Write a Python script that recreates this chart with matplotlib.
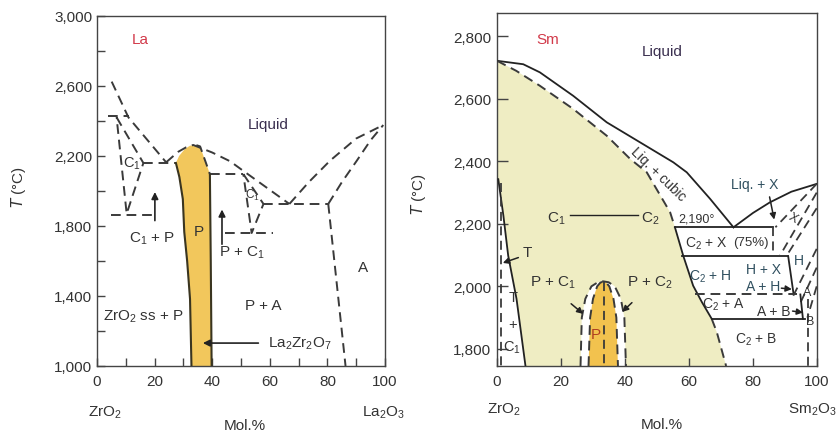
import numpy as np
import matplotlib
matplotlib.use('Agg')
import matplotlib.pyplot as plt

plt.rcParams['font.family'] = ['Liberation Sans', 'DejaVu Sans']
plt.rcParams['mathtext.default'] = 'regular'

DASH = (0, (5, 3))
LC = '#3a3a3a'
TXT = '#333333'
TEAL = '#2f4f5f'

# ---------------- La2O3 - ZrO2 ----------------
la_liq_left_x = [5.1, 10.9, 24.0]
la_liq_left_t = [2625, 2421, 2164]
la_liq_mid_x = [24.0, 28.2, 31.0, 33.4, 40.0, 46.2, 50.8, 58.0, 66.8]
la_liq_mid_t = [2164, 2224, 2250, 2263, 2220, 2170, 2115, 2030, 1926]
la_liq_right_x = [66.8, 73.5, 80.9, 90.0, 99.4]
la_liq_right_t = [1926, 2050, 2173, 2300, 2377]
la_inner_right_x = [80.3, 85.0, 90.2, 95.0, 99.4]
la_inner_right_t = [1926, 2050, 2173, 2290, 2377]
la_tri1_x = [6.8, 16.1, 10.3, 6.8]
la_tri1_t = [2421, 2160, 1870, 2421]
la_tri2_x = [50.8, 57.8, 53.7, 50.8]
la_tri2_t = [2097, 1926, 1760, 2097]
la_p_left_x = [27.4, 28.6, 29.8, 30.3, 31.3, 32.3, 32.8]
la_p_left_t = [2160, 2080, 1954, 1766, 1600, 1383, 1000]
la_p_top_x = [27.4, 28.5, 30.5, 32.3, 34.5, 35.8, 39.2]
la_p_top_t = [2160, 2200, 2240, 2259, 2262, 2255, 2097]
la_p_right_x = [39.2, 39.5, 39.8]
la_p_right_t = [2097, 1600, 1000]
# horizontal lines: (x0, x1, T)
la_hlines = [(3.9, 11.2, 2427), (16.1, 27.4, 2160), (4.7, 19.0, 1865),
             (39.3, 50.8, 2097), (57.8, 80.3, 1926), (44.4, 61.2, 1760)]
la_vline_x = [80.3, 86.3]
la_vline_t = [1926, 1000]

# ---------------- Sm2O3 - ZrO2 ----------------
sm_liq_c_x = [0, 8.2, 13.4, 23.8, 34.3, 44.7, 55.1, 59.3, 66.6, 73.9]
sm_liq_c_t = [2722, 2711, 2685, 2610, 2525, 2461, 2397, 2365, 2280, 2189]
sm_liq_x_x = [73.9, 80.0, 85.3, 92.0, 99.9]
sm_liq_x_t = [2189, 2235, 2269, 2303, 2328]
sm_sol_x = [0, 6.0, 13.4, 23.8, 34.3, 41.6, 46.8, 54.1, 55.6]
sm_sol_t = [2722, 2690, 2642, 2568, 2482, 2408, 2365, 2237, 2189]
sm_c2_x = [55.6, 58.2, 61.3, 64.0, 67.1]
sm_c2_t = [2189, 2098, 2002, 1950, 1896]
sm_c2_low_x = [67.1, 68.7, 71.6]
sm_c2_low_t = [1896, 1853, 1745]
sm_tline_x = [0.4, 2.0, 3.5, 6.1, 8.9]
sm_tline_t = [2343, 2226, 2098, 1960, 1745]
sm_p_out_x = [26.1, 26.5, 27.6, 29.5, 31.5, 33.2, 34.9, 36.8, 38.7, 39.8, 40.3]
sm_p_out_t = [1745, 1900, 1960, 2000, 2013, 2016, 2013, 2000, 1960, 1900, 1745]
sm_p_in_x = [28.6, 29.1, 30.0, 31.3, 32.3, 33.2, 34.1, 35.1, 36.4, 37.3, 37.8]
sm_p_in_t = [1745, 1900, 1960, 2000, 2012, 2015, 2012, 2000, 1960, 1900, 1745]
# solid horizontals (x0, x1, T)
sm_solid_h = [(55.6, 86.4, 2189), (57.7, 91.0, 2096), (67.1, 96.2, 1896)]
sm_dash_h = [(61.9, 93.7, 1974)]
# dashed segments on the Sm2O3 rich side
sm_dash_segs = [((99.9, 87.0), (2328, 2189)), ((99.9, 88.4), (2300, 2098)),
                ((99.9, 90.5), (2250, 2098)), ((99.9, 92.6), (2120, 1970)),
                ((99.9, 94.5), (2060, 1940)), ((99.9, 97.0), (2000, 1900)),
                ((97.3, 97.3), (1960, 1745)), ((86.4, 86.4), (2189, 2096)),
                ((1.2, 1.2), (2330, 1745)), ((33.3, 33.3), (2015, 1745))]
sm_solid_segs = [((91.0, 92.6), (2096, 1981)), ((94.8, 95.6), (1974, 1896))]

fig = plt.figure(figsize=(8.4, 4.35), dpi=100)
ax1 = fig.add_axes([97/840, 68/435, 288/840, 350/435])
ax2 = fig.add_axes([497/840, 68/435, 320/840, 353/435])

for ax in (ax1, ax2):
    for s in ax.spines.values():
        s.set_color('#444444')
        s.set_linewidth(1.0)
    ax.tick_params(direction='in', length=6, width=1, colors='#444444',
                   labelcolor=TXT, labelsize=11)
    ax.set_xlim(0, 100)
    ax.set_xticks(np.arange(0, 101, 20))

# ---- left panel
ax = ax1
ax.set_ylim(1000, 3000)
ax.set_yticks(np.arange(1000, 3001, 400))
ax.set_yticklabels(['1,000', '1,400', '1,800', '2,200', '2,600', '3,000'])
ax.set_yticks(np.arange(1200, 3000, 400), minor=True)
ax.set_xticks(np.arange(10, 100, 20), minor=True)
ax.tick_params(which='minor', direction='in', length=6, width=1, colors='#444444')
ax.tick_params(axis='x', pad=6)

poly_x = la_p_left_x[::-1] + la_p_top_x[1:] + la_p_right_x[1:]
poly_t = la_p_left_t[::-1] + la_p_top_t[1:] + la_p_right_t[1:]
ax.fill(poly_x, poly_t, color='#f2c75c', lw=0, zorder=1)
ax.plot(la_p_left_x, la_p_left_t, color='#3a3520', lw=1.5, zorder=3)
ax.plot(la_p_right_x, la_p_right_t, color='#3a3520', lw=1.5, zorder=3)
ax.plot(la_p_top_x[4:], la_p_top_t[4:], color=LC, lw=1.4, ls=DASH, zorder=3)

for xs, ts in [(la_liq_left_x, la_liq_left_t), (la_liq_mid_x, la_liq_mid_t),
               (la_liq_right_x, la_liq_right_t), (la_inner_right_x, la_inner_right_t),
               (la_tri1_x, la_tri1_t), (la_tri2_x, la_tri2_t), (la_vline_x, la_vline_t)]:
    ax.plot(xs, ts, color=LC, lw=1.4, ls=DASH, zorder=2)
for x0, x1, t in la_hlines:
    ax.plot([x0, x1], [t, t], color=LC, lw=1.4, ls=DASH, zorder=2)

arr = dict(arrowstyle='-|>', color='#222222', lw=1.2, mutation_scale=10)
ax.annotate('', xy=(20.1, 2010), xytext=(20.1, 1815), arrowprops=arr)
ax.annotate('', xy=(43.4, 1910), xytext=(43.4, 1680), arrowprops=arr)
ax.annotate('', xy=(35.8, 1131), xytext=(57.0, 1131), arrowprops=arr)

ax.text(15, 2870, 'La', color='#d23a4a', fontsize=11, ha='center', va='center')
ax.text(59.5, 2383, 'Liquid', color='#3a2f4f', fontsize=11, ha='center', va='center')
ax.text(12.2, 2160, 'C$_1$', color=TXT, fontsize=10.5, ha='center', va='center')
ax.text(19, 1735, 'C$_1$ + P', color=TXT, fontsize=11, ha='center', va='center')
ax.text(35.2, 1773, 'P', color=TXT, fontsize=11, ha='center', va='center')
ax.text(50.5, 1650, 'P + C$_1$', color=TXT, fontsize=11, ha='center', va='center')
ax.text(53.9, 1980, 'C$_1$', color=TXT, fontsize=8.5, ha='center', va='center')
ax.text(92.5, 1564, 'A', color=TXT, fontsize=11, ha='center', va='center')
ax.text(57.8, 1349, 'P + A', color=TXT, fontsize=11, ha='center', va='center')
ax.text(16.1, 1287, 'ZrO$_2$ ss + P', color=TXT, fontsize=11, ha='center', va='center')
ax.text(70.5, 1131, 'La$_2$Zr$_2$O$_7$', color=TXT, fontsize=11, ha='center', va='center')

ax.set_ylabel('$\\mathit{T}$ (°C)', fontsize=11, color=TXT)
ax.yaxis.set_label_coords(-0.24, 0.514)
ax.text(0.028, -0.13, 'ZrO$_2$', transform=ax.transAxes, ha='center', va='center',
        fontsize=11, color=TXT)
ax.text(0.514, -0.168, 'Mol.%', transform=ax.transAxes, ha='center', va='center',
        fontsize=11, color=TXT)
ax.text(0.993, -0.13, 'La$_2$O$_3$', transform=ax.transAxes, ha='center', va='center',
        fontsize=11, color=TXT)

# ---- right panel
ax = ax2
ax.set_ylim(1745, 2875)
ax.set_yticks(np.arange(1800, 2801, 200))
ax.set_yticklabels(['1,800', '2,000', '2,200', '2,400', '2,600', '2,800'])
ax.tick_params(axis='y', length=8, pad=4)
ax.tick_params(axis='x', pad=6)

yel_x = sm_sol_x + sm_c2_x[1:] + sm_c2_low_x[1:] + sm_tline_x[::-1] + [0]
yel_t = sm_sol_t + sm_c2_t[1:] + sm_c2_low_t[1:] + sm_tline_t[::-1] + [2350]
ax.fill(yel_x, yel_t, color='#efedc3', lw=0, zorder=1)
ax.fill(sm_p_out_x, sm_p_out_t, color='white', lw=0, zorder=1.2)
ax.fill(sm_p_in_x, sm_p_in_t, color='#f2c24e', lw=0, zorder=1.4)
ax.plot(sm_p_out_x, sm_p_out_t, color=LC, lw=1.4, ls=DASH, zorder=2)
ax.plot(sm_p_in_x, sm_p_in_t, color=LC, lw=1.4, ls=DASH, zorder=2)

ax.plot(sm_liq_c_x, sm_liq_c_t, color='#222222', lw=1.3, zorder=3)
ax.plot(sm_liq_x_x, sm_liq_x_t, color='#222222', lw=1.3, zorder=3)
ax.plot(sm_sol_x, sm_sol_t, color=LC, lw=1.4, ls=DASH, zorder=3)
ax.plot(sm_c2_x, sm_c2_t, color='#222222', lw=1.3, zorder=3)
ax.plot(sm_c2_low_x, sm_c2_low_t, color=LC, lw=1.4, ls=DASH, zorder=3)
ax.plot(sm_tline_x, sm_tline_t, color='#222222', lw=1.3, zorder=3)
for x0, x1, t in sm_solid_h:
    ax.plot([x0, x1], [t, t], color='#222222', lw=1.3, zorder=3)
for x0, x1, t in sm_dash_h:
    ax.plot([x0, x1], [t, t], color=LC, lw=1.4, ls=DASH, zorder=3)
for xs, ts in sm_dash_segs:
    ax.plot(xs, ts, color=LC, lw=1.3, ls=DASH, zorder=3)
for xs, ts in sm_solid_segs:
    ax.plot(xs, ts, color='#222222', lw=1.3, zorder=3)
ax.plot([22.8, 44.2], [2228, 2228], color='#222222', lw=1.0, zorder=3)

arr2 = dict(arrowstyle='-|>', color='#222222', lw=1.1, mutation_scale=9)
ax.annotate('', xy=(1.0, 2072), xytext=(7.5, 2095), arrowprops=arr2)
ax.annotate('', xy=(27.6, 1906), xytext=(22.5, 1950), arrowprops=arr2)
ax.annotate('', xy=(38.5, 1912), xytext=(42.8, 1954), arrowprops=arr2)
ax.annotate('', xy=(86.8, 2205), xytext=(85.0, 2295), arrowprops=arr2)
ax.annotate('', xy=(93.0, 1990), xytext=(88.0, 1995), arrowprops=arr2)
ax.annotate('', xy=(96.5, 1915), xytext=(91.5, 1922), arrowprops=arr2)

ax.text(16, 2791, 'Sm', color='#d23a4a', fontsize=11, ha='center', va='center')
ax.text(51.5, 2754, 'Liquid', color='#3a2f4f', fontsize=11, ha='center', va='center')
ax.text(50.5, 2360, 'Liq. + cubic', color=TXT, fontsize=10, ha='center', va='center',
        rotation=-44, zorder=4)
ax.text(18.6, 2221, 'C$_1$', color=TXT, fontsize=11, ha='center', va='center')
ax.text(47.8, 2221, 'C$_2$', color=TXT, fontsize=11, ha='center', va='center')
ax.text(62.4, 2218, '2,190°', color=TXT, fontsize=9, ha='center', va='center')
ax.text(65.5, 2138, 'C$_2$ + X', color=TXT, fontsize=10, ha='center', va='center')
ax.text(79.2, 2141, '(75%)', color=TXT, fontsize=9.5, ha='center', va='center')
ax.text(66.6, 2034, 'C$_2$ + H', color=TEAL, fontsize=10, ha='center', va='center')
ax.text(83.2, 2055, 'H + X', color=TEAL, fontsize=10, ha='center', va='center')
ax.text(83.2, 2002, 'A + H', color=TEAL, fontsize=10, ha='center', va='center')
ax.text(70.7, 1944, 'C$_2$ + A', color=TXT, fontsize=10, ha='center', va='center')
ax.text(86.4, 1922, 'A + B', color=TXT, fontsize=10, ha='center', va='center')
ax.text(81.1, 1832, 'C$_2$ + B', color=TXT, fontsize=10, ha='center', va='center')
ax.text(80.6, 2328, 'Liq. + X', color=TEAL, fontsize=10, ha='center', va='center')
ax.text(94.3, 2083, 'H', color=TEAL, fontsize=10, ha='center', va='center')
ax.text(92.3, 2221, 'X', color=TXT, fontsize=9, ha='center', va='center', rotation=-30)
ax.text(97.0, 1981, 'A', color=TXT, fontsize=9, ha='center', va='center')
ax.text(97.8, 1890, 'B', color=TXT, fontsize=9, ha='center', va='center')
ax.text(9.5, 2109, 'T', color=TXT, fontsize=11, ha='center', va='center')
ax.text(4.9, 1965, 'T', color=TXT, fontsize=10.5, ha='center', va='center')
ax.text(4.9, 1880, '+', color=TXT, fontsize=10.5, ha='center', va='center')
ax.text(4.6, 1805, 'C$_1$', color=TXT, fontsize=10.5, ha='center', va='center')
ax.text(17.6, 2013, 'P + C$_1$', color=TXT, fontsize=11, ha='center', va='center')
ax.text(47.8, 2013, 'P + C$_2$', color=TXT, fontsize=11, ha='center', va='center')
ax.text(30.8, 1848, 'P', color='#b04020', fontsize=11, ha='center', va='center', zorder=4)

ax.set_ylabel('$\\mathit{T}$ (°C)', fontsize=11, color=TXT)
ax.yaxis.set_label_coords(-0.216, 0.49)
ax.text(0.02, -0.122, 'ZrO$_2$', transform=ax.transAxes, ha='center', va='center',
        fontsize=11, color=TXT)
ax.text(0.515, -0.164, 'Mol.%', transform=ax.transAxes, ha='center', va='center',
        fontsize=11, color=TXT)
ax.text(0.985, -0.122, 'Sm$_2$O$_3$', transform=ax.transAxes, ha='center', va='center',
        fontsize=11, color=TXT)

fig.savefig('out.png', dpi=100)
